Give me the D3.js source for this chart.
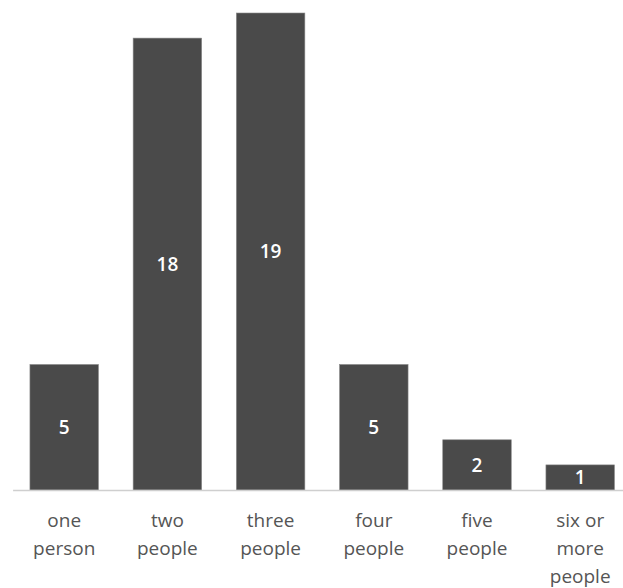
<!DOCTYPE html>
<html>
<head>
<meta charset="utf-8">
<script src="https://cdn.jsdelivr.net/npm/d3@7"></script>
<style>
  body { margin: 0; background: #fff; }
  svg { display: block; }
</style>
</head>
<body>
<div id="chart"></div>
<script>
const categories = ['one person', 'two people', 'three people', 'four people', 'five people', 'six or more people'];
const categoryLines = [['one', 'person'], ['two', 'people'], ['three', 'people'], ['four', 'people'], ['five', 'people'], ['six or', 'more', 'people']];
const counts = [5, 18, 19, 5, 2, 1];

const margin = {top: 13, right: 0, bottom: 98, left: 12.6},
      width = 623 - margin.left - margin.right,
      height = 588 - margin.top - margin.bottom;

const svg = d3.select('#chart').append('svg')
    .attr('width', 623)
    .attr('height', 588)
  .append('g')
    .attr('transform', `translate(${margin.left}, ${margin.top})`);

// band of ~103px per category, bars ~68px wide
const xScale = d3.scaleBand()
    .domain(categories)
    .range([0, 619.2])
    .paddingInner(0.336)
    .paddingOuter(0.168);

const yScale = d3.scaleLinear()
    .domain([0, d3.max(counts)])
    .range([height, 0]);

const data = categories.map((c, i) => ({category: c, count: counts[i], lines: categoryLines[i]}));

svg.selectAll('.bar')
    .data(data)
  .enter().append('rect')
    .attr('class', 'bar')
    .attr('x', d => xScale(d.category))
    .attr('y', d => yScale(d.count))
    .attr('width', xScale.bandwidth())
    .attr('height', d => height - yScale(d.count))
    .attr('fill', '#4a4a4a')
    .attr('stroke', '#8a8a8a')
    .attr('stroke-width', 0.6);

svg.selectAll('.value')
    .data(data)
  .enter().append('text')
    .attr('class', 'value')
    .attr('x', d => xScale(d.category) + xScale.bandwidth() / 2)
    .attr('y', d => (yScale(d.count) + height) / 2)
    .attr('dy', '0.36em')
    .attr('text-anchor', 'middle')
    .style('font-family', '"Open Sans", sans-serif')
    .style('font-weight', 600)
    .style('font-size', '19px')
    .style('fill', '#fff')
    .text(d => d.count);

// x axis: just the baseline and wrapped category names
const xAxis = svg.append('g')
    .attr('transform', `translate(0, ${height})`)
    .call(d3.axisBottom(xScale).tickSize(0).tickSizeOuter(0).tickFormat(''));

xAxis.select('.domain')
    .attr('stroke', '#cfcfcf')
    .attr('stroke-width', 1.5);

svg.selectAll('.cat')
    .data(data)
  .enter().append('text')
    .attr('class', 'cat')
    .attr('text-anchor', 'middle')
    .style('font-family', '"Open Sans", sans-serif')
    .style('font-size', '19px')
    .style('fill', '#555')
    .each(function(d) {
      const t = d3.select(this);
      d.lines.forEach((line, i) => {
        t.append('tspan')
          .attr('x', xScale(d.category) + xScale.bandwidth() / 2)
          .attr('y', height + 37 + i * 28)
          .text(line);
      });
    });
</script>
</body>
</html>
